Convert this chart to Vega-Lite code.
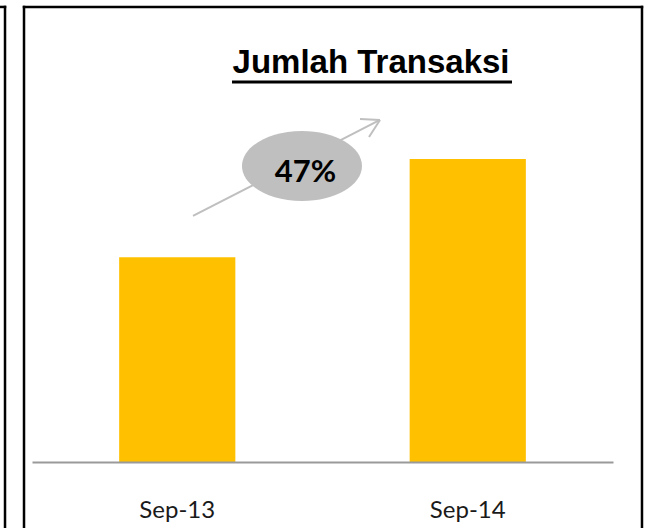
{
  "$schema": "https://vega.github.io/schema/vega-lite/v6.json",
  "width": 645,
  "height": 528,
  "autosize": "none",
  "padding": 0,
  "background": "white",
  "config": {"view": {"stroke": null}},
  "resolve": {"scale": {"x": "independent"}},
  "layer": [
    {
      "data": {"values": [{"month": "Sep-13", "value": 100}, {"month": "Sep-14", "value": 148}]},
      "mark": {"type": "bar", "color": "#FFC000"},
      "encoding": {
        "x": {"field": "month", "type": "nominal", "sort": null,
          "scale": {"range": [32, 613], "paddingInner": 0.6, "paddingOuter": 0.3},
          "axis": {"title": null, "orient": "bottom", "offset": -66, "ticks": false, "grid": false,
            "domainColor": "#9a9a9a", "domainWidth": 2, "labelFont": "Lato", "labelFontSize": 24,
            "labelColor": "#1a1a1a", "labelPadding": 36, "labelAngle": 0, "zindex": 1}},
        "y": {"field": "value", "type": "quantitative", "scale": {"domain": [0, 150], "range": [462, 154.95]}, "axis": null}
      }
    },
    {
      "data": {"values": [{}]},
      "mark": {"type": "rule", "color": "#BFBFBF", "strokeWidth": 2},
      "encoding": {
        "x": {"datum": 1.0542, "type": "quantitative", "scale": {"domain": [0.5, 2.5], "range": [32, 613]}, "axis": null},
        "x2": {"datum": 1.6979},
        "y": {"datum": 120.2, "type": "quantitative", "scale": {"domain": [0, 150], "range": [462, 154.95]}, "axis": null},
        "y2": {"datum": 167.1}
      }
    },
    {
      "data": {"values": [{}]},
      "mark": {"type": "rule", "color": "#BFBFBF", "strokeWidth": 2},
      "encoding": {
        "x": {"datum": 1.6291, "type": "quantitative", "scale": {"domain": [0.5, 2.5], "range": [32, 613]}, "axis": null},
        "x2": {"datum": 1.6979},
        "y": {"datum": 167.6, "type": "quantitative", "scale": {"domain": [0, 150], "range": [462, 154.95]}, "axis": null},
        "y2": {"datum": 167.1}
      }
    },
    {
      "data": {"values": [{}]},
      "mark": {"type": "rule", "color": "#BFBFBF", "strokeWidth": 2},
      "encoding": {
        "x": {"datum": 1.6601, "type": "quantitative", "scale": {"domain": [0.5, 2.5], "range": [32, 613]}, "axis": null},
        "x2": {"datum": 1.6979},
        "y": {"datum": 158.8, "type": "quantitative", "scale": {"domain": [0, 150], "range": [462, 154.95]}, "axis": null},
        "y2": {"datum": 167.1}
      }
    },
    {
      "data": {"values": [{}]},
      "mark": {"type": "point", "filled": true, "opacity": 1, "color": "#BFBFBF", "size": 14400,
        "shape": "M-1,0A1,0.583,0,1,1,1,0A1,0.583,0,1,1,-1,0Z"},
      "encoding": {
        "x": {"datum": 1.4294, "type": "quantitative", "scale": {"domain": [0.5, 2.5], "range": [32, 613]}, "axis": null},
        "y": {"datum": 144.6, "type": "quantitative", "scale": {"domain": [0, 150], "range": [462, 154.95]}, "axis": null}
      }
    },
    {
      "data": {"values": [{"label": "47%"}]},
      "mark": {"type": "text", "font": "Lato", "fontWeight": "bold", "fontSize": 31, "color": "#000000",
        "align": "center", "baseline": "alphabetic"},
      "encoding": {
        "text": {"field": "label"},
        "x": {"datum": 1.4415, "type": "quantitative", "scale": {"domain": [0.5, 2.5], "range": [32, 613]}, "axis": null},
        "y": {"datum": 136.8, "type": "quantitative", "scale": {"domain": [0, 150], "range": [462, 154.95]}, "axis": null}
      }
    },
    {
      "data": {"values": [{"label": "Jumlah Transaksi"}]},
      "mark": {"type": "text", "font": "Liberation Sans", "fontWeight": "bold", "fontSize": 33, "color": "#000000",
        "align": "center", "baseline": "alphabetic"},
      "encoding": {
        "text": {"field": "label"},
        "x": {"datum": 1.667, "type": "quantitative", "scale": {"domain": [0.5, 2.5], "range": [32, 613]}, "axis": null},
        "y": {"datum": 190.0, "type": "quantitative", "scale": {"domain": [0, 150], "range": [462, 154.95]}, "axis": null}
      }
    },
    {
      "data": {"values": [{}]},
      "mark": {"type": "rule", "color": "#000000", "strokeWidth": 3},
      "encoding": {
        "x": {"datum": 1.1885, "type": "quantitative", "scale": {"domain": [0.5, 2.5], "range": [32, 613]}, "axis": null},
        "x2": {"datum": 2.1523},
        "y": {"datum": 185.6, "type": "quantitative", "scale": {"domain": [0, 150], "range": [462, 154.95]}, "axis": null}
      }
    },
    {
      "data": {"values": [{}]},
      "mark": {"type": "rule", "color": "#000000", "strokeWidth": 2.5, "strokeCap": "square"},
      "encoding": {
        "x": {"datum": 0.4725, "type": "quantitative", "scale": {"domain": [0.5, 2.5], "range": [32, 613]}, "axis": null},
        "x2": {"datum": 2.5998},
        "y": {"datum": 222.3, "type": "quantitative", "scale": {"domain": [0, 150], "range": [462, 154.95]}, "axis": null}
      }
    },
    {
      "data": {"values": [{}]},
      "mark": {"type": "rule", "color": "#000000", "strokeWidth": 2.5, "strokeCap": "square"},
      "encoding": {
        "x": {"datum": 0.4725, "type": "quantitative", "scale": {"domain": [0.5, 2.5], "range": [32, 613]}, "axis": null},
        "y": {"datum": 222.3, "type": "quantitative", "scale": {"domain": [0, 150], "range": [462, 154.95]}, "axis": null},
        "y2": {"datum": -40}
      }
    },
    {
      "data": {"values": [{}]},
      "mark": {"type": "rule", "color": "#000000", "strokeWidth": 2.5, "strokeCap": "square"},
      "encoding": {
        "x": {"datum": 2.5998, "type": "quantitative", "scale": {"domain": [0.5, 2.5], "range": [32, 613]}, "axis": null},
        "y": {"datum": 222.3, "type": "quantitative", "scale": {"domain": [0, 150], "range": [462, 154.95]}, "axis": null},
        "y2": {"datum": -40}
      }
    },
    {
      "data": {"values": [{}]},
      "mark": {"type": "rule", "color": "#000000", "strokeWidth": 2.5, "strokeCap": "square"},
      "encoding": {
        "x": {"datum": 0.4071, "type": "quantitative", "scale": {"domain": [0.5, 2.5], "range": [32, 613]}, "axis": null},
        "y": {"datum": 222.3, "type": "quantitative", "scale": {"domain": [0, 150], "range": [462, 154.95]}, "axis": null},
        "y2": {"datum": -40}
      }
    },
    {
      "data": {"values": [{}]},
      "mark": {"type": "rule", "color": "#000000", "strokeWidth": 2.5, "strokeCap": "square"},
      "encoding": {
        "x": {"datum": 0.3898, "type": "quantitative", "scale": {"domain": [0.5, 2.5], "range": [32, 613]}, "axis": null},
        "x2": {"datum": 0.4071},
        "y": {"datum": 222.3, "type": "quantitative", "scale": {"domain": [0, 150], "range": [462, 154.95]}, "axis": null}
      }
    }
  ]
}
